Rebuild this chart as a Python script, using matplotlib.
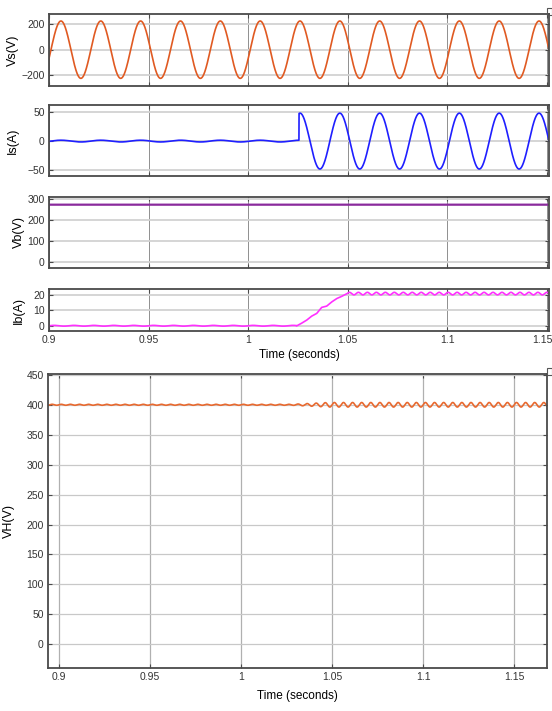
import numpy as np
import matplotlib
matplotlib.use("Agg")
import matplotlib.pyplot as plt
import matplotlib.transforms as mtransforms
from matplotlib.patches import Rectangle

plt.rcParams['font.family'] = ['Liberation Sans', 'DejaVu Sans']

# values
t_start, t_end = 0.9, 1.151
line_freq = 50.0          # Hz, grid frequency
vs_amp = 225.0            # V, source voltage peak
vs_peak_time = 0.906      # s, time of first Vs peak
t_switch = 1.0255         # s, converter switched on
is_amp = [1.5, 48.0]      # A, source current peak before / after switch
vb_level = 275.0          # V, battery voltage

# battery current: flat, ramp, then level with ripple
ib_ramp_t = [1.0243, 1.0268, 1.0294, 1.0319, 1.0344, 1.0369, 1.0394, 1.0420, 1.0445, 1.0470, 1.0497]
ib_ramp_v = [0.2, 1.9, 3.9, 6.4, 8.1, 11.9, 12.7, 15.4, 17.5, 18.9, 20.6]
ib_level = [0.3, 20.6]
ib_ripple = [0.25, 0.8]
ib_ripple_freq = [100.0, 222.0]

# DC link voltage: level and ripple envelope
vh_level = 400.5
vh_env_t = [0.894, 1.028, 1.048, 1.17]
vh_env_a = [0.8, 0.8, 3.8, 3.8]
vh_ripple_freq = 200.0

xticks = [0.9, 0.95, 1.0, 1.05, 1.1, 1.15]
xticklabels = ['0.9', '0.95', '1', '1.05', '1.1', '1.15']

# time bases
t = np.linspace(t_start, t_end, 4000)
t5 = np.linspace(0.894, 1.168, 5000)

w = 2 * np.pi * line_freq
vs = vs_amp * np.cos(w * (t - vs_peak_time))
is_ = np.where(t < t_switch, is_amp[0], is_amp[1]) * np.cos(w * (t - vs_peak_time))
vb = np.full_like(t, vb_level)

t_pre = t[t < ib_ramp_t[0]]
ib_pre = ib_level[0] + ib_ripple[0] * np.sin(2 * np.pi * ib_ripple_freq[0] * t_pre)
t_post = t[t > ib_ramp_t[-1]]
ib_post = ib_level[1] + ib_ripple[1] * np.sin(2 * np.pi * ib_ripple_freq[1] * (t_post - ib_ramp_t[-1]))
ib_t = np.concatenate([t_pre, ib_ramp_t, t_post])
ib = np.concatenate([ib_pre, ib_ramp_v, ib_post])

vh = vh_level + np.interp(t5, vh_env_t, vh_env_a) * np.sin(2 * np.pi * vh_ripple_freq * t5)

W, H = 552, 711
fig = plt.figure(figsize=(W / 100, H / 100), dpi=100)


def rect(l, r, top, bot):
    return [l / W, 1 - bot / H, (r - l) / W, (bot - top) / H]


def style(ax):
    for s in ax.spines.values():
        s.set_color('#4a4a4a')
        s.set_linewidth(1.3)
    ax.tick_params(direction='in', top=True, right=True, length=3, width=0.8,
                   colors='#4a4a4a', labelcolor='#333333', labelsize=7.5, pad=3)
    ax.grid(axis='y', color='#d2d2d2', lw=1.3)
    ax.grid(axis='x', color='#8f8f8f', lw=0.7)
    ax.set_axisbelow(True)


ax1 = fig.add_axes(rect(49, 549, 14, 86))
ax2 = fig.add_axes(rect(49, 549, 105, 176))
ax3 = fig.add_axes(rect(49, 549, 197, 268))
ax4 = fig.add_axes(rect(49, 549, 289, 331))
ax5 = fig.add_axes(rect(48, 547, 374, 668))

ax1.plot(t, vs, color='#e05a22', lw=1.2)
ax1.set_ylim(-285, 280)
ax1.set_yticks([-200, 0, 200])
ax1.set_ylabel('Vs(V)', fontsize=9, labelpad=2)

ax2.plot(t, is_, color='#1f1fff', lw=1.2)
ax2.set_ylim(-60, 62)
ax2.set_yticks([-50, 0, 50])
ax2.set_ylabel('Is(A)', fontsize=9, labelpad=6)

ax3.plot(t, vb, color='#8a2a9c', lw=1.6)
ax3.set_ylim(-30, 312)
ax3.set_yticks([0, 100, 200, 300])
ax3.set_ylabel('Vb(V)', fontsize=9, labelpad=2)

ax4.plot(ib_t, ib, color='#ff30ff', lw=1.2)
ax4.set_ylim(-3, 23.5)
ax4.set_yticks([0, 10, 20])
ax4.set_ylabel('Ib(A)', fontsize=9, labelpad=6)

for ax in (ax1, ax2, ax3, ax4):
    ax.set_xlim(t_start, t_end)
    ax.set_xticks(xticks)
    ax.set_xticklabels(xticklabels)
    style(ax)
    if ax is not ax4:
        ax.tick_params(labelbottom=False)
ax4.set_xlabel('Time (seconds)', fontsize=8.5, labelpad=3)

# keep the last tick label inside the figure
last = ax4.get_xticklabels()[-1]
last.set_transform(last.get_transform() +
                   mtransforms.ScaledTranslation(-5 / 100, 0, fig.dpi_scale_trans))

ax5.plot(t5, vh, color='#e8692f', lw=1.2)
ax5.set_xlim(0.894, 1.168)
ax5.set_ylim(-40, 452)
ax5.set_yticks(np.arange(0, 451, 50))
ax5.set_xticks(xticks)
ax5.set_xticklabels(xticklabels)
style(ax5)
ax5.grid(axis='x', color='#b0b0b0', lw=0.9)
ax5.grid(axis='y', color='#c8c8c8', lw=0.9)
ax5.set_xlabel('Time (seconds)', fontsize=8.5, labelpad=6)
ax5.set_ylabel('VH(V)', fontsize=9, labelpad=8)

# small scope corner boxes
for y0 in (8, 368):
    fig.patches.append(Rectangle((547 / W, 1 - (y0 + 7) / H), 5 / W, 7 / H,
                                 transform=fig.transFigure, fill=False,
                                 ec='#555555', lw=0.8))

fig.savefig('out.png', dpi=100)
